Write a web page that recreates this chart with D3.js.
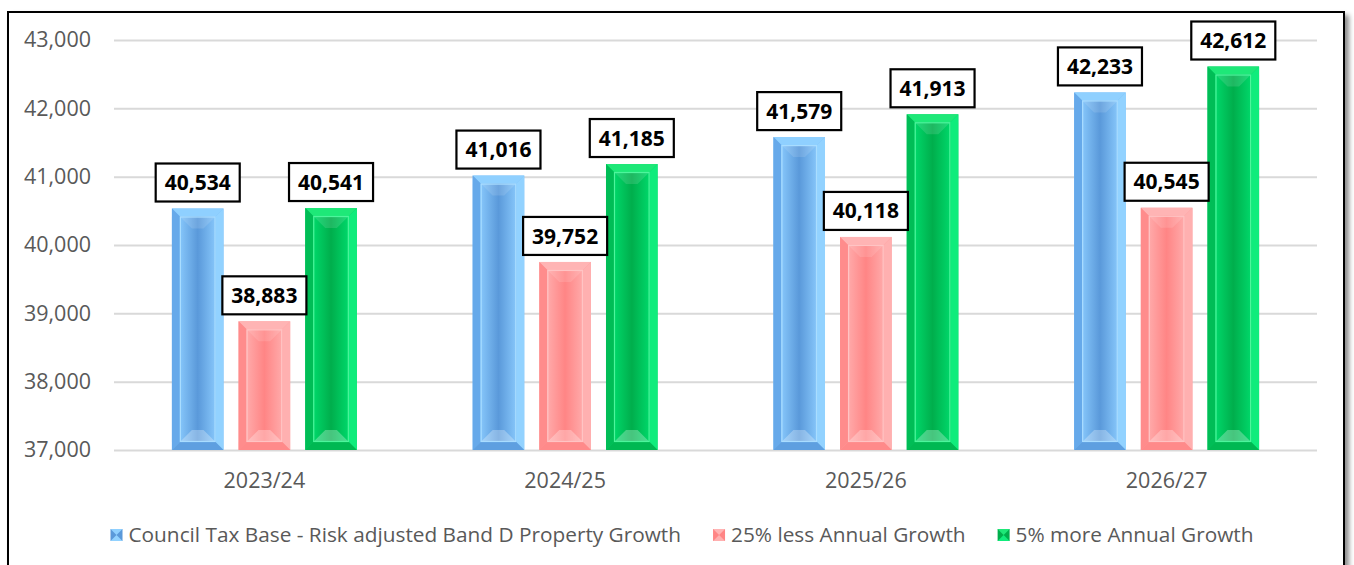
<!DOCTYPE html>
<html>
<head>
<meta charset="utf-8">
<script src="https://cdn.jsdelivr.net/npm/d3@7"></script>
<style>
html,body{margin:0;padding:0;background:#fff;}
svg{display:block;}
</style>
</head>
<body>
<svg id="chart" width="1354" height="565"></svg>
<script>
const categories = ["2023/24", "2024/25", "2025/26", "2026/27"];
const seriesNames = ["Council Tax Base - Risk adjusted Band D Property Growth", "25% less Annual Growth", "5% more Annual Growth"];
const baseGrowth = [40534, 41016, 41579, 42233];
const lessGrowth = [38883, 39752, 40118, 40545];
const moreGrowth = [40541, 41185, 41913, 42612];
const yTicks = [37000, 38000, 39000, 40000, 41000, 42000, 43000];

const seriesValues = [baseGrowth, lessGrowth, moreGrowth];
const palettes = [
  {frame:"#78bdf6", top:"#8fd0ff", left:"#66a9ea", right:"#92d2ff", bottom:"#5e9fe0", edge:"#86c6fa", mid:"#5a99da", line:"#a9ddff"},
  {frame:"#ff9c9c", top:"#ffb4b4", left:"#ff8c8c", right:"#ffb0b0", bottom:"#ff8a8a", edge:"#ffaaaa", mid:"#ff8585", line:"#ffc4c4"},
  {frame:"#00d163", top:"#1ee878", left:"#00bd56", right:"#10ec7c", bottom:"#00b852", edge:"#00d86a", mid:"#00ae4c", line:"#4df59c"}
];

const svg = d3.select("#chart");
const defs = svg.append("defs");
const flt = defs.append("filter").attr("id","shadow").attr("x","-5%").attr("y","-5%").attr("width","110%").attr("height","110%");
flt.append("feDropShadow").attr("dx",4).attr("dy",4).attr("stdDeviation",2.5).attr("flood-color","#000").attr("flood-opacity",0.45);

palettes.forEach((p,i)=>{
  const g = defs.append("linearGradient").attr("id","grad"+i).attr("x1","0").attr("x2","1").attr("y1","0").attr("y2","0");
  g.append("stop").attr("offset","0%").attr("stop-color",p.edge);
  g.append("stop").attr("offset","50%").attr("stop-color",p.mid);
  g.append("stop").attr("offset","100%").attr("stop-color",p.edge);
});

// outer frame
svg.append("rect").attr("x",8).attr("y",12).attr("width",1336).attr("height",600)
  .attr("fill","#fff").attr("stroke","#000").attr("stroke-width",2).attr("filter","url(#shadow)");

const y = d3.scaleLinear().domain([37000,43000]).range([450,40]);
const x0 = d3.scaleBand().domain(categories).range([114,1317]).padding(0);
const groupW = 200;
const x1 = d3.scaleBand().domain(d3.range(3)).range([0,groupW]).paddingInner(0.226).paddingOuter(0.113);

// gridlines
const yAxis = d3.axisLeft(y).tickValues(yTicks).tickSize(-(1317-114)).tickFormat(d3.format(","));
const ga = svg.append("g").attr("transform","translate(114,0)").call(yAxis);
ga.select(".domain").remove();
ga.selectAll(".tick line").attr("stroke","#d9d9d9").attr("stroke-width",2);
ga.selectAll(".tick text").attr("x",-23).attr("fill","#595959")
  .style("font-family","'Open Sans'").style("font-size","21.5px");

// x axis labels
const xAxis = d3.axisBottom(x0).tickSize(0).tickPadding(0);
const gx = svg.append("g").attr("transform","translate(0,450)").call(xAxis);
gx.select(".domain").remove();
gx.selectAll(".tick text").attr("y",30).attr("dy","0.35em").attr("fill","#595959")
  .style("font-family","'Open Sans'").style("font-size","21.5px");

// bars
function drawBevelBar(g, x, yTop, w, h, p, i){
  const b = 8;
  const xr = x + w, yb = yTop + h;
  g.append("rect").attr("x",x).attr("y",yTop).attr("width",w).attr("height",h).attr("fill",p.frame);
  const poly = (pts, fill) => g.append("polygon").attr("points", pts.map(q=>q.join(",")).join(" ")).attr("fill",fill);
  poly([[x,yTop],[xr,yTop],[xr-b,yTop+b],[x+b,yTop+b]], p.top);
  poly([[x,yTop],[x+b,yTop+b],[x+b,yb-b],[x,yb]], p.left);
  poly([[xr,yTop],[xr,yb],[xr-b,yb-b],[xr-b,yTop+b]], p.right);
  poly([[x,yb],[x+b,yb-b],[xr-b,yb-b],[xr,yb]], p.bottom);
  const ix = x+b, iy = yTop+b, iw = w-2*b, ih = Math.max(0,h-2*b);
  g.append("rect").attr("x",ix).attr("y",iy).attr("width",iw).attr("height",ih).attr("fill","url(#grad"+i+")");
  // inner pyramid bevel
  const d = Math.min(iw/2, 12, ih/2);
  const ixr = ix+iw, iyb = iy+ih;
  g.append("polygon").attr("points",[[ix,iyb],[ix+d,iyb-d],[ixr-d,iyb-d],[ixr,iyb]].map(q=>q.join(",")).join(" "))
    .attr("fill","#fff").attr("opacity",0.28);
  g.append("polygon").attr("points",[[ix,iy],[ixr,iy],[ixr-d,iy+d],[ix+d,iy+d]].map(q=>q.join(",")).join(" "))
    .attr("fill","#fff").attr("opacity",0.12);
  g.append("rect").attr("x",ix+0.5).attr("y",iy+0.5).attr("width",iw-1).attr("height",Math.max(0,ih-1))
    .attr("fill","none").attr("stroke",p.line).attr("stroke-width",1.2);
}

const barData = [];
categories.forEach((c,ci)=>{
  seriesValues.forEach((vals,si)=>{
    barData.push({c, si, v: vals[ci]});
  });
});

const offset = (x0.bandwidth()-groupW)/2;
const barsG = svg.append("g");
barData.forEach(d=>{
  const bx = x0(d.c) + offset + x1(d.si);
  const bw = x1.bandwidth();
  const yt = y(d.v);
  drawBevelBar(barsG.append("g"), bx, yt, bw, y(37000)-yt, palettes[d.si], d.si);
});

// data labels
const labG = svg.append("g");
barData.forEach(d=>{
  const cx = x0(d.c) + offset + x1(d.si) + x1.bandwidth()/2;
  const bottom = y(d.v) - 7;
  const h = 38;
  const g = labG.append("g");
  const t = g.append("text").attr("x",cx).attr("y",bottom - h/2).attr("dy","0.36em")
    .attr("text-anchor","middle").attr("fill","#000")
    .style("font-family","'Open Sans'").style("font-weight","700").style("font-size","21px")
    .text(d3.format(",")(d.v));
  const tw = t.node().getComputedTextLength();
  const w = tw + 18;
  g.insert("rect","text").attr("x",cx-w/2).attr("y",bottom-h).attr("width",w).attr("height",h)
    .attr("fill","#fff").attr("stroke","#000").attr("stroke-width",2.2);
});

// legend
const legG = svg.append("g");
let lx = 0;
seriesNames.forEach((name,i)=>{
  const g = legG.append("g");
  const p = palettes[i];
  const s = 12;
  g.append("rect").attr("x",lx).attr("y",-6).attr("width",s).attr("height",s).attr("fill",p.mid);
  g.append("polygon").attr("points",`${lx},-6 ${lx+s},-6 ${lx+s/2},0`).attr("fill",p.top);
  g.append("polygon").attr("points",`${lx},6 ${lx+s},6 ${lx+s/2},0`).attr("fill",p.right);
  const t = g.append("text").attr("x",lx+s+6).attr("y",0).attr("dy","0.35em").attr("fill","#595959")
    .style("font-family","'Open Sans'").style("font-size","20.8px").text(name);
  lx += s + 6 + t.node().getComputedTextLength() + 32;
});
const legW = lx - 32;
legG.attr("transform",`translate(${682 - legW/2},535)`);
</script>
</body>
</html>
